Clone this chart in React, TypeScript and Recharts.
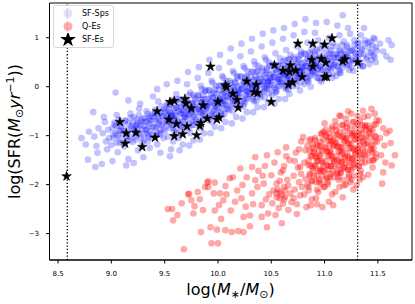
import React from "react";
import { ScatterChart, Scatter, XAxis, YAxis, ReferenceLine, ReferenceArea, Legend, Symbols } from "recharts";

const xTicks = [8.5, 9.0, 9.5, 10.0, 10.5, 11.0, 11.5];
const yTicks = [-3, -2, -1, 0, 1];
const massLimits = [8.587, 11.31];
const legendOrder = ["SF-Sps", "Q-Es", "SF-Es"];

// [log M*, log SFR] — star-forming spirals, outer part of the cloud
const sfSpsHalo: [number, number][] = [
  [8.72,-1.05],[8.76,-1.18],[8.78,-1.49],[8.79,-0.92],
  [8.83,-0.52],[8.84,-1.02],[8.86,-1.21],[8.85,-1.64],[8.88,-0.85],[8.87,-1.35],
  [8.91,-1.58],[8.92,-0.95],[8.94,-0.72],[8.95,-1.12],[8.96,-1.28],[8.97,-0.88],[8.98,-1.05],[8.93,-0.62],
  [9.01,-1.52],[9.02,-0.98],[9.03,-0.78],[9.04,-0.12],[9.05,-1.15],[9.06,-1.34],[9.07,-0.9],[9.08,-1.05],[9.05,-0.58],[9.09,-0.82],
  [9.11,-0.95],[9.12,-1.22],[9.13,-0.7],[9.14,-1.61],[9.15,-0.88],[9.16,-0.28],[9.16,-1.48],[9.17,-1.02],[9.18,-0.55],[9.19,-0.8],[9.14,-1.1],
  [9.21,-1.56],[9.21,-0.62],[9.22,-0.92],[9.23,-1.08],[9.24,-0.78],[9.25,-1.3],[9.26,-0.45],[9.27,-0.98],[9.28,-0.7],[9.29,-1.15],[9.24,-0.85],[9.27,-0.35],
  [9.30,-1.44],[9.31,-0.72],[9.32,-0.95],[9.33,-0.5],[9.34,-1.12],[9.35,-0.82],[9.36,-1.25],[9.37,-0.6],[9.38,-0.98],[9.39,-0.2],[9.33,-0.88],[9.36,-0.68],[9.38,-1.05],
  [9.41,-0.55],[9.42,-0.82],[9.43,-1.18],[9.44,-0.65],[9.45,-0.95],[9.46,-1.35],[9.47,-0.4],[9.48,-0.75],[9.49,-1.05],[9.43,-0.05],[9.46,-0.88],[9.44,-0.3],[9.48,-0.6],[9.42,-1.0],
  [9.51,-0.48],[9.52,-0.72],[9.53,-1.02],[9.54,-0.58],[9.55,-0.85],[9.56,-1.28],[9.57,-0.3],[9.58,-0.65],[9.59,-0.92],[9.52,0.05],[9.55,-1.42],[9.57,-0.78],[9.53,-0.38],[9.58,-1.12],[9.56,-0.55],
  [9.61,-0.42],[9.62,-0.7],[9.63,-0.95],[9.64,-0.25],[9.65,-0.55],[9.66,-0.82],[9.67,-1.18],[9.68,-0.38],[9.69,-0.62],[9.62,0.12],[9.64,-1.3],[9.66,-0.48],[9.68,-0.88],[9.61,-0.15],[9.67,-0.72],[9.63,-1.05],
  [9.71,-0.3],[9.72,-0.58],[9.73,-0.85],[9.74,-0.12],[9.75,-0.45],[9.76,-0.7],[9.77,-1.1],[9.78,-0.22],[9.79,-0.52],[9.72,0.3],[9.74,-0.95],[9.76,-0.35],[9.78,-0.78],[9.71,0.05],[9.77,-0.62],[9.73,-1.2],
  [9.81,-0.18],[9.82,-0.45],[9.83,-0.72],[9.84,0.02],[9.85,-0.32],[9.86,-0.58],[9.87,-0.95],[9.88,-0.1],[9.89,-0.4],[9.82,0.4],[9.84,-0.85],[9.86,-0.25],[9.88,-0.65],[9.81,0.18],[9.87,-0.5],[9.83,-1.08],[9.85,-0.05],
  [9.91,-0.08],[9.92,-0.35],[9.93,-0.6],[9.94,0.12],[9.95,-0.22],[9.96,-0.48],[9.97,-0.82],[9.98,0.02],[9.99,-0.3],[9.92,0.55],[9.94,-0.72],[9.96,-0.12],[9.98,-0.55],[9.91,0.28],[9.97,-0.4],[9.93,-0.95],[9.95,0.08],
  [10.01,0.02],[10.02,-0.25],[10.03,-0.5],[10.04,0.22],[10.05,-0.1],[10.06,-0.38],[10.07,-0.72],[10.08,0.12],[10.09,-0.2],[10.02,0.65],[10.04,-0.6],[10.06,0.0],[10.08,-0.45],[10.01,0.38],[10.07,-0.3],[10.03,-0.85],[10.05,0.18],
  [10.11,0.12],[10.12,-0.15],[10.13,-0.4],[10.14,0.32],[10.15,0.0],[10.16,-0.28],[10.17,-0.62],[10.18,0.22],[10.19,-0.1],[10.12,0.78],[10.14,-0.5],[10.16,0.1],[10.18,-0.35],[10.11,0.5],[10.17,-0.2],[10.13,-0.75],[10.15,0.28],
  [10.21,0.22],[10.22,-0.05],[10.23,-0.3],[10.24,0.42],[10.25,0.1],[10.26,-0.18],[10.27,-0.52],[10.28,0.32],[10.29,0.0],[10.22,0.88],[10.24,-0.4],[10.26,0.2],[10.28,-0.25],[10.21,0.62],[10.27,-0.1],[10.23,-0.65],[10.25,0.38],
  [10.31,0.3],[10.32,0.05],[10.33,-0.2],[10.34,0.52],[10.35,0.2],[10.36,-0.08],[10.37,-0.42],[10.38,0.42],[10.39,0.1],[10.32,0.98],[10.34,-0.3],[10.36,0.3],[10.38,-0.15],[10.31,0.72],[10.37,0.0],[10.33,-0.52],[10.35,0.45],
  [10.41,0.38],[10.42,0.12],[10.43,-0.1],[10.44,0.6],[10.45,0.28],[10.46,0.02],[10.47,-0.32],[10.48,0.5],[10.49,0.18],[10.42,1.08],[10.44,-0.22],[10.46,0.38],[10.48,-0.05],[10.41,0.82],[10.47,0.08],[10.43,-0.42],[10.45,0.55],
  [10.51,0.45],[10.52,0.2],[10.53,-0.02],[10.54,0.68],[10.55,0.35],[10.56,0.1],[10.57,-0.25],[10.58,0.58],[10.59,0.25],[10.52,1.15],[10.54,-0.12],[10.56,0.45],[10.58,0.02],[10.51,0.9],[10.57,0.15],[10.53,-0.35],
  [10.61,0.52],[10.62,0.28],[10.63,0.05],[10.64,0.75],[10.65,0.42],[10.66,0.18],[10.67,-0.15],[10.68,0.65],[10.69,0.32],[10.62,1.2],[10.64,-0.05],[10.66,0.55],[10.68,0.1],[10.61,0.98],[10.67,0.22],[10.63,-0.25],
  [10.71,0.6],[10.72,0.35],[10.73,0.12],[10.74,0.82],[10.75,0.5],[10.76,0.25],[10.77,-0.08],[10.78,0.72],[10.79,0.4],[10.72,1.28],[10.74,0.02],[10.76,0.62],[10.78,0.18],[10.71,1.05],[10.77,0.3],
  [10.81,0.68],[10.82,0.42],[10.83,0.2],[10.84,0.9],[10.85,0.58],[10.86,0.32],[10.87,0.0],[10.88,0.78],[10.89,0.48],[10.82,1.38],[10.84,0.1],[10.86,0.7],[10.88,0.25],[10.81,1.12],[10.87,0.38],
  [10.91,0.72],[10.92,0.5],[10.93,0.28],[10.94,0.95],[10.95,0.62],[10.96,0.4],[10.97,0.1],[10.98,0.85],[10.99,0.55],[10.92,1.3],[10.94,0.18],[10.96,0.78],[10.98,0.35],[10.91,1.1],
  [11.01,0.78],[11.02,0.55],[11.03,0.35],[11.04,1.0],[11.05,0.68],[11.06,0.45],[11.07,0.18],[11.08,0.9],[11.09,0.6],[11.02,1.32],[11.04,0.25],[11.06,0.82],[11.08,0.4],
  [11.11,0.82],[11.12,0.6],[11.13,0.4],[11.14,1.05],[11.15,0.72],[11.16,0.5],[11.17,1.46],[11.18,0.92],[11.19,0.62],[11.12,1.25],[11.14,0.28],[11.16,0.85],
  [11.21,0.85],[11.22,0.62],[11.23,0.45],[11.24,1.08],[11.25,0.75],[11.26,0.55],[11.27,0.32],[11.28,0.95],[11.29,0.68],[11.22,1.2],
  [11.31,0.88],[11.32,0.65],[11.33,0.5],[11.34,1.05],[11.35,0.78],[11.36,0.42],[11.38,0.95],[11.37,1.2],
  [11.41,0.9],[11.43,0.7],[11.44,0.55],[11.46,1.0],[11.48,0.8],[11.47,0.6],
  [11.52,0.88],[11.55,0.72],[11.58,0.62],[11.6,0.95],
  [11.63,0.85],[11.62,0.55],
];

// dense ridge of the spiral cloud
const sfSpsCore: [number, number][] = [
  [9.00,-1.19],[9.02,-1.05],[9.04,-0.95],[9.01,-0.85],[9.03,-0.73],
  [9.08,-1.14],[9.06,-1.00],[9.09,-0.90],[9.05,-0.80],[9.07,-0.67],
  [9.11,-1.15],[9.14,-1.01],[9.12,-0.91],[9.10,-0.81],[9.13,-0.69],
  [9.17,-1.10],[9.15,-0.96],[9.19,-0.86],[9.16,-0.76],[9.18,-0.64],
  [9.20,-1.13],[9.22,-1.02],[9.24,-0.94],[9.21,-0.87],[9.23,-0.81],[9.20,-0.74],[9.24,-0.67],
  [9.28,-1.05],[9.26,-0.94],[9.29,-0.87],[9.27,-0.79],[9.25,-0.73],[9.29,-0.66],[9.26,-0.58],
  [9.31,-1.08],[9.34,-0.97],[9.32,-0.88],[9.30,-0.80],[9.33,-0.71],[9.31,-0.64],[9.34,-0.56],
  [9.35,-1.02],[9.37,-0.91],[9.39,-0.83],[9.36,-0.76],[9.38,-0.70],[9.35,-0.63],[9.39,-0.56],
  [9.43,-0.94],[9.41,-0.83],[9.44,-0.76],[9.42,-0.68],[9.40,-0.62],[9.44,-0.55],[9.41,-0.47],
  [9.46,-0.98],[9.49,-0.87],[9.47,-0.78],[9.45,-0.70],[9.48,-0.61],[9.46,-0.54],[9.49,-0.46],
  [9.50,-0.91],[9.52,-0.80],[9.54,-0.72],[9.51,-0.65],[9.53,-0.59],[9.50,-0.52],[9.54,-0.45],[9.52,-0.36],[9.53,-0.68],
  [9.58,-0.84],[9.56,-0.73],[9.59,-0.66],[9.57,-0.58],[9.55,-0.52],[9.59,-0.45],[9.56,-0.37],[9.58,-0.27],[9.57,-0.60],
  [9.61,-0.87],[9.64,-0.76],[9.62,-0.67],[9.60,-0.59],[9.63,-0.50],[9.61,-0.43],[9.64,-0.35],[9.62,-0.26],[9.60,-0.54],
  [9.65,-0.81],[9.67,-0.70],[9.69,-0.62],[9.66,-0.55],[9.68,-0.49],[9.65,-0.42],[9.69,-0.35],[9.67,-0.26],[9.68,-0.58],
  [9.73,-0.74],[9.71,-0.63],[9.74,-0.56],[9.72,-0.48],[9.70,-0.42],[9.74,-0.35],[9.71,-0.27],[9.73,-0.17],[9.72,-0.50],
  [9.76,-0.78],[9.79,-0.67],[9.77,-0.58],[9.75,-0.50],[9.78,-0.41],[9.76,-0.34],[9.79,-0.26],[9.77,-0.17],[9.75,-0.45],
  [9.80,-0.72],[9.82,-0.61],[9.84,-0.53],[9.81,-0.46],[9.83,-0.40],[9.80,-0.33],[9.84,-0.26],[9.82,-0.17],[9.83,-0.49],
  [9.88,-0.64],[9.86,-0.53],[9.89,-0.46],[9.87,-0.38],[9.85,-0.32],[9.89,-0.25],[9.86,-0.17],[9.88,-0.07],[9.87,-0.40],
  [9.91,-0.68],[9.94,-0.57],[9.92,-0.48],[9.90,-0.40],[9.93,-0.31],[9.91,-0.24],[9.94,-0.16],[9.92,-0.07],[9.90,-0.35],
  [9.95,-0.61],[9.97,-0.50],[9.99,-0.42],[9.96,-0.35],[9.98,-0.29],[9.95,-0.22],[9.99,-0.15],[9.97,-0.06],[9.98,-0.38],
  [10.03,-0.54],[10.01,-0.43],[10.04,-0.36],[10.02,-0.28],[10.00,-0.22],[10.04,-0.15],[10.01,-0.07],[10.03,0.03],[10.02,-0.30],
  [10.06,-0.56],[10.09,-0.45],[10.07,-0.36],[10.05,-0.28],[10.08,-0.19],[10.06,-0.12],[10.09,-0.04],[10.07,0.05],[10.05,-0.23],
  [10.10,-0.48],[10.12,-0.37],[10.14,-0.29],[10.11,-0.22],[10.13,-0.16],[10.10,-0.09],[10.14,-0.02],[10.12,0.07],[10.13,-0.25],
  [10.18,-0.39],[10.16,-0.28],[10.19,-0.21],[10.17,-0.13],[10.15,-0.07],[10.19,0.00],[10.16,0.08],[10.18,0.18],[10.17,-0.15],
  [10.21,-0.41],[10.24,-0.30],[10.22,-0.21],[10.20,-0.13],[10.23,-0.04],[10.21,0.03],[10.24,0.11],[10.22,0.20],[10.20,-0.08],
  [10.25,-0.34],[10.27,-0.23],[10.29,-0.15],[10.26,-0.08],[10.28,-0.02],[10.25,0.05],[10.29,0.12],[10.27,0.21],[10.28,-0.11],
  [10.33,-0.26],[10.31,-0.15],[10.34,-0.08],[10.32,0.00],[10.30,0.06],[10.34,0.13],[10.31,0.21],[10.33,0.31],[10.32,-0.02],
  [10.36,-0.29],[10.39,-0.18],[10.37,-0.09],[10.35,-0.01],[10.38,0.08],[10.36,0.15],[10.39,0.23],[10.37,0.32],[10.35,0.04],
  [10.40,-0.22],[10.42,-0.11],[10.44,-0.03],[10.41,0.04],[10.43,0.10],[10.40,0.17],[10.44,0.24],[10.42,0.33],[10.43,0.01],
  [10.48,-0.14],[10.46,-0.03],[10.49,0.04],[10.47,0.12],[10.45,0.18],[10.49,0.25],[10.46,0.33],[10.48,0.43],[10.47,0.10],
  [10.51,-0.17],[10.54,-0.06],[10.52,0.03],[10.50,0.11],[10.53,0.20],[10.51,0.27],[10.54,0.35],[10.52,0.44],[10.50,0.16],
  [10.55,-0.10],[10.57,0.01],[10.59,0.09],[10.56,0.16],[10.58,0.22],[10.55,0.29],[10.59,0.36],[10.57,0.45],[10.58,0.13],
  [10.63,-0.02],[10.61,0.09],[10.64,0.16],[10.62,0.24],[10.60,0.30],[10.64,0.37],[10.61,0.45],[10.63,0.55],[10.62,0.22],
  [10.66,-0.05],[10.69,0.06],[10.67,0.15],[10.65,0.23],[10.68,0.32],[10.66,0.39],[10.69,0.47],[10.67,0.56],[10.65,0.28],
  [10.70,0.01],[10.72,0.12],[10.74,0.20],[10.71,0.27],[10.73,0.33],[10.70,0.40],[10.74,0.47],[10.72,0.56],[10.73,0.24],
  [10.78,0.09],[10.76,0.20],[10.79,0.27],[10.77,0.35],[10.75,0.41],[10.79,0.48],[10.76,0.56],[10.78,0.66],[10.77,0.33],
  [10.81,0.05],[10.84,0.16],[10.82,0.25],[10.80,0.33],[10.83,0.42],[10.81,0.49],[10.84,0.57],[10.82,0.66],[10.80,0.38],
  [10.85,0.11],[10.87,0.22],[10.89,0.30],[10.86,0.37],[10.88,0.43],[10.85,0.50],[10.89,0.57],[10.87,0.66],[10.88,0.34],
  [10.93,0.18],[10.91,0.29],[10.94,0.36],[10.92,0.44],[10.90,0.50],[10.94,0.57],[10.91,0.65],[10.93,0.75],[10.92,0.42],
  [10.96,0.14],[10.99,0.25],[10.97,0.34],[10.95,0.42],[10.98,0.51],[10.96,0.58],[10.99,0.66],
  [11.00,0.20],[11.02,0.31],[11.04,0.39],[11.01,0.46],[11.03,0.52],[11.00,0.59],[11.04,0.66],
  [11.08,0.27],[11.06,0.38],[11.09,0.45],[11.07,0.53],[11.05,0.59],[11.09,0.66],[11.06,0.74],
  [11.11,0.22],[11.14,0.33],[11.12,0.42],[11.10,0.50],[11.13,0.59],[11.11,0.66],[11.14,0.74],
  [11.15,0.28],[11.17,0.39],[11.19,0.47],[11.16,0.54],[11.18,0.60],[11.15,0.67],[11.19,0.74],
  [11.23,0.34],[11.21,0.45],[11.24,0.52],[11.22,0.60],[11.20,0.66],[11.24,0.73],[11.21,0.81],
  [11.25,0.39],[11.27,0.53],[11.29,0.63],[11.26,0.73],[11.28,0.85],
  [11.33,0.43],[11.31,0.57],[11.34,0.67],[11.30,0.77],[11.32,0.90],
  [11.36,0.42],[11.39,0.56],[11.37,0.66],[11.35,0.76],[11.38,0.88],
  [11.42,0.46],[11.40,0.60],[11.44,0.70],[11.41,0.80],[11.43,0.92],
  [11.48,0.50],[11.46,0.64],[11.49,0.74],[11.45,0.84],[11.47,0.97],
];

// quiescent ellipticals, tail and spread
const qEsHalo: [number, number][] = [
  [9.53,-2.5],[9.57,-2.5],[9.58,-2.73],
  [9.66,-2.38],[9.68,-3.32],[9.62,-2.62],
  [9.72,-2.2],[9.73,-2.19],[9.78,-2.44],[9.77,-2.59],[9.75,-2.32],
  [9.83,-2.3],[9.84,-2.97],[9.81,-2.15],[9.86,-2.52],[9.88,-2.05],
  [9.91,-2.05],[9.91,-1.93],[9.93,-2.87],[9.9,-1.96],[9.94,-3.2],[9.96,-2.18],[9.97,-2.53],
  [9.97,-1.96],[10.02,-2.18],[9.99,-2.92],[10.0,-3.2],[10.05,-2.32],[10.03,-2.7],[10.07,-2.03],[10.01,-2.42],
  [10.08,-2.2],[10.07,-2.93],[10.12,-2.53],[10.13,-2.97],[10.11,-1.87],[10.14,-1.85],[10.16,-2.35],[10.18,-2.12],
  [10.19,-2.95],[10.24,-2.97],[10.21,-1.67],[10.23,-2.01],[10.24,-2.66],[10.27,-1.85],[10.22,-2.28],[10.26,-2.45],
  [10.3,-2.85],[10.3,-2.63],[10.32,-1.64],[10.32,-2.18],[10.35,-1.44],[10.35,-1.91],[10.33,-2.4],[10.37,-2.05],[10.38,-1.72],
  [10.41,-2.66],[10.41,-2.42],[10.43,-1.98],[10.46,-1.4],[10.46,-2.87],[10.47,-2.59],[10.44,-1.62],[10.48,-2.2],[10.42,-1.82],[10.45,-2.3],
  [10.5,-1.81],[10.52,-2.12],[10.55,-2.26],[10.55,-1.98],[10.56,-1.34],[10.58,-2.15],[10.53,-1.55],[10.57,-2.48],[10.51,-2.38],[10.59,-1.75],[10.54,-2.62],[10.58,-1.92],
  [10.56,-2.1],[10.6,-2.2],[10.63,-2.12],[10.58,-2.28],[10.62,-2.3],[10.55,-2.18],
  [10.6,-2.79],[10.61,-2.39],[10.61,-1.71],[10.63,-2.25],[10.62,-2.05],[10.64,-1.24],[10.65,-1.9],[10.66,-2.52],[10.67,-1.5],[10.68,-2.18],[10.62,-1.62],[10.69,-2.36],[10.66,-2.02],[10.64,-1.42],
  [10.71,-1.82],[10.72,-2.1],[10.73,-1.35],[10.74,-2.4],[10.75,-1.65],[10.76,-1.95],[10.77,-1.64],[10.77,-2.22],[10.78,-1.12],[10.79,-2.05],[10.72,-1.52],[10.74,-2.6],[10.76,-1.28],[10.78,-1.78],[10.71,-2.28],
  [10.81,-1.55],[10.82,-1.88],[10.83,-2.46],[10.8,-1.03],[10.84,-1.2],[10.85,-2.12],[10.86,-1.78],[10.87,-1.42],[10.88,-2.3],[10.89,-1.65],[10.82,-1.3],[10.84,-2.0],[10.86,-1.1],[10.88,-1.92],[10.81,-2.2],[10.85,-1.6],[10.87,-2.42],[10.89,-1.25],
  [10.91,-1.05],[10.92,-1.45],[10.93,-1.82],[10.94,-2.15],[10.95,-1.3],[10.96,-1.68],[10.97,-1.98],[10.98,-2.46],[10.99,-0.92],[10.91,-1.6],[10.92,-2.28],[10.93,-1.18],[10.94,-1.52],[10.95,-1.9],[10.96,-1.4],[10.97,-0.95],[10.98,-1.72],[10.99,-2.05],[10.9,-1.35],[10.93,-2.4],[10.96,-1.12],[10.98,-1.55],
  [11.0,-0.75],[11.01,-1.25],[11.02,-1.6],[11.03,-1.95],[11.04,-0.95],[11.05,-1.4],[11.06,-1.78],[11.07,-2.2],[11.08,-1.1],[11.09,-1.52],[11.01,-0.88],[11.02,-1.88],[11.03,-1.32],[11.04,-2.35],[11.05,-1.05],[11.06,-1.62],[11.07,-0.82],[11.08,-1.85],[11.09,-1.2],[11.0,-2.05],[11.03,-1.7],[11.05,-1.18],[11.07,-1.48],[11.08,-2.42],[11.02,-1.02],[11.06,-1.35],
  [11.1,-0.7],[11.11,-1.15],[11.12,-1.5],[11.13,-1.85],[11.14,-0.92],[11.15,-1.32],[11.16,-1.68],[11.17,-2.26],[11.18,-1.02],[11.19,-1.45],[11.11,-0.8],[11.12,-1.78],[11.13,-1.22],[11.14,-2.05],[11.15,-0.6],[11.16,-1.55],[11.17,-0.78],[11.18,-1.9],[11.19,-1.1],[11.1,-2.15],[11.13,-1.62],[11.14,-0.59],[11.16,-1.38],[11.18,-2.02],[11.12,-0.98],[11.15,-1.75],[11.17,-1.25],[11.19,-1.65],
  [11.2,-0.65],[11.21,-1.05],[11.22,-1.42],[11.23,-1.8],[11.24,-0.85],[11.25,-1.25],[11.26,-1.6],[11.27,-2.1],[11.28,-0.95],[11.29,-1.38],[11.21,-0.75],[11.22,-1.7],[11.23,-1.15],[11.24,-1.95],[11.25,-0.55],[11.26,-1.48],[11.27,-0.72],[11.28,-1.82],[11.29,-1.08],[11.2,-2.0],[11.23,-1.55],[11.25,-1.9],[11.26,-1.0],[11.28,-1.3],[11.22,-0.5],[11.27,-1.65],
  [11.3,-2.01],[11.31,-0.6],[11.32,-0.98],[11.33,-1.35],[11.34,-1.72],[11.35,-0.78],[11.36,-0.49],[11.37,-1.18],[11.38,-1.55],[11.39,-0.88],[11.31,-1.25],[11.32,-1.62],[11.33,-0.7],[11.34,-1.05],[11.35,-1.45],[11.36,-1.85],[11.37,-0.62],[11.38,-1.32],[11.39,-1.02],[11.33,-1.9],[11.36,-1.12],[11.38,-0.8],
  [11.41,-0.6],[11.42,-0.95],[11.43,-1.3],[11.44,-0.45],[11.45,-1.65],[11.46,-0.78],[11.47,-1.12],[11.48,-1.45],[11.49,-0.68],[11.41,-1.8],[11.43,-0.85],[11.44,-1.2],[11.46,-1.5],[11.47,-0.55],[11.48,-1.02],[11.45,-1.35],
  [11.51,-0.7],[11.52,-1.05],[11.53,-1.4],[11.54,-1.98],[11.55,-0.85],[11.56,-1.2],[11.57,-1.55],[11.58,-0.95],[11.55,-1.75],
  [11.61,-0.9],[11.62,-1.15],[11.63,-1.61],[11.66,-1.4],
];

// dense clump of the quiescent cloud
const qEsCore: [number, number][] = [
  [10.85,-2.05],[10.88,-1.93],[10.86,-1.82],[10.89,-1.72],[10.87,-1.62],[10.85,-1.52],[10.88,-1.42],[10.86,-1.31],[10.89,-1.19],[10.87,-1.07],
  [10.92,-1.95],[10.90,-1.83],[10.94,-1.72],[10.91,-1.62],[10.93,-1.52],[10.92,-1.42],[10.90,-1.32],[10.94,-1.21],[10.91,-1.09],[10.93,-2.10],
  [10.95,-1.95],[10.98,-1.83],[10.96,-1.72],[10.99,-1.62],[10.97,-1.52],[10.95,-1.42],[10.98,-1.32],[10.96,-1.21],[10.99,-1.09],[10.97,-0.97],
  [11.02,-1.85],[11.00,-1.73],[11.04,-1.62],[11.01,-1.52],[11.03,-1.42],[11.02,-1.32],[11.00,-1.22],[11.04,-1.11],[11.01,-0.99],[11.03,-2.00],
  [11.05,-1.85],[11.08,-1.73],[11.06,-1.62],[11.09,-1.52],[11.07,-1.42],[11.05,-1.32],[11.08,-1.22],[11.06,-1.11],[11.09,-0.99],[11.07,-0.87],
  [11.12,-1.75],[11.10,-1.63],[11.14,-1.52],[11.11,-1.42],[11.13,-1.32],[11.12,-1.22],[11.10,-1.12],[11.14,-1.01],[11.11,-0.89],[11.13,-1.90],
  [11.15,-1.77],[11.18,-1.65],[11.16,-1.54],[11.19,-1.44],[11.17,-1.34],[11.15,-1.24],[11.18,-1.14],[11.16,-1.03],[11.19,-0.91],[11.17,-0.79],
  [11.22,-1.69],[11.20,-1.57],[11.24,-1.46],[11.21,-1.36],[11.23,-1.26],[11.22,-1.16],[11.20,-1.06],[11.24,-0.95],[11.21,-0.83],[11.23,-1.84],
  [11.25,-1.70],[11.28,-1.58],[11.26,-1.47],[11.29,-1.37],[11.27,-1.27],[11.25,-1.17],[11.28,-1.07],[11.26,-0.96],[11.29,-0.84],[11.27,-0.72],
  [11.32,-1.63],[11.30,-1.51],[11.34,-1.40],[11.31,-1.30],[11.33,-1.20],[11.32,-1.10],[11.30,-1.00],[11.34,-0.89],[11.31,-0.77],[11.33,-1.78],
  [11.35,-1.55],[11.38,-1.42],[11.36,-1.30],[11.39,-1.18],[11.37,-1.06],[11.35,-0.94],[11.38,-0.82],
  [11.42,-1.52],[11.40,-1.39],[11.44,-1.27],[11.41,-1.15],[11.43,-1.03],[11.42,-0.91],[11.40,-0.79],
  [11.45,-1.50],[11.48,-1.37],[11.46,-1.25],[11.49,-1.13],[11.47,-1.01],[11.45,-0.89],[11.48,-0.77],
];

// star-forming ellipticals
const sfEs: [number, number][] = [
  [8.58,-1.83],[9.08,-0.72],[9.14,-0.95],[9.23,-0.94],[9.13,-1.16],[9.29,-1.23],[9.41,-1.04],[9.43,-0.5],
  [9.55,-0.31],[9.59,-0.29],[9.69,-0.25],[9.70,-0.34],[9.75,-0.44],[9.54,-0.67],[9.61,-0.76],[9.71,-0.81],
  [9.59,-1.01],[9.67,-0.97],[9.80,-0.99],[9.83,-0.8],[9.84,-0.74],[9.86,-0.38],[9.9,-0.65],[9.93,0.41],
  [10.0,-0.31],[10.01,-0.63],[9.99,-0.67],[10.07,0.03],[10.08,-0.01],[10.14,-0.14],[10.18,-0.27],[10.19,-0.43],
  [10.27,0.11],[10.36,0.04],[10.34,-0.11],[10.37,-0.13],[10.5,-0.31],[10.53,0.44],[10.61,0.33],[10.68,0.44],
  [10.67,0.3],[10.73,0.33],[10.66,0.04],[10.7,0.09],[10.79,0.2],[10.75,0.88],[10.89,0.88],[11.0,0.86],
  [11.07,0.99],[10.88,0.55],[10.89,0.41],[10.97,0.57],[11.01,0.49],[11.0,0.2],[11.02,0.2],[11.17,0.52],
  [11.19,0.56],[11.31,0.5],
];

const toPoints = (rows: [number, number][]) => rows.map(([mass, sfr]) => ({ mass, sfr }));

const FONT = "DejaVu Sans, sans-serif";

const blueDot = (p: any) => <circle cx={p.cx} cy={p.cy} r={3.3} fill="#0000ff" fillOpacity={0.24} />;
const redDot = (p: any) => <circle cx={p.cx} cy={p.cy} r={3.3} fill="#ff0000" fillOpacity={0.34} />;
const starDot = (p: any) => (
  <Symbols cx={p.cx} cy={p.cy} type="star" size={28} fill="#000" stroke="#000" strokeWidth={0.6} />
);

const legendIcons: Record<string, React.ReactNode> = {
  "SF-Sps": <circle cx={13} cy={6.5} r={4.5} fill="#0000ff" fillOpacity={0.12} />,
  "Q-Es": <circle cx={13} cy={6.5} r={4.5} fill="#ff0000" fillOpacity={0.33} />,
  "SF-Es": <Symbols cx={13} cy={6.5} type="star" size={80} fill="#000" />,
};

const LegendBox = (props: any) => {
  const items = [...(props.payload ?? [])].sort(
    (a: any, b: any) => legendOrder.indexOf(a.value) - legendOrder.indexOf(b.value)
  );
  return (
    <div
      style={{
        border: "1px solid #d6d6d6",
        borderRadius: 3,
        background: "rgba(255,255,255,0.8)",
        padding: "1px 4px 1px 1px",
        fontFamily: FONT,
        fontSize: 8,
      }}
    >
      {items.map((entry: any) => (
        <div key={entry.value} style={{ display: "flex", alignItems: "center", height: 13 }}>
          <svg width={27} height={13}>{legendIcons[entry.value]}</svg>
          <span>{entry.value}</span>
        </div>
      ))}
    </div>
  );
};

const XLabel = () => (
  <text x={230.5} y={295} textAnchor="middle" fontFamily={FONT} fontSize={16} fill="#000">
    log(<tspan fontStyle="italic">M</tspan>
    <tspan fontSize={11} dy={3}>∗</tspan>
    <tspan dy={-3}>/</tspan>
    <tspan fontStyle="italic">M</tspan>
    <tspan fontSize={11} dy={3}>⊙</tspan>
    <tspan dy={-3}>)</tspan>
  </text>
);

const YLabel = () => (
  <text
    x={20}
    y={131.5}
    transform="rotate(-90 20 131.5)"
    textAnchor="middle"
    fontFamily={FONT}
    fontSize={16}
    fill="#000"
  >
    log(SFR(<tspan fontStyle="italic">M</tspan>
    <tspan fontSize={11} dy={3}>⊙</tspan>
    <tspan dy={-3} fontStyle="italic">yr</tspan>
    <tspan fontSize={11} dy={-6}>−1</tspan>
    <tspan dy={6}>))</tspan>
  </text>
);

const fmtY = (v: number) => (v < 0 ? `\u2212${Math.abs(v)}` : String(v));

export default function App() {
  const tickStyle = { fontSize: 7, fill: "#000", fontFamily: FONT };
  return (
    <div style={{ position: "absolute", left: 0, top: 0, background: "#fff" }}>
      <ScatterChart width={415} height={304} margin={{ top: 3, right: 3, bottom: 0, left: 0 }}>
        <XAxis
          type="number"
          dataKey="mass"
          domain={[8.42, 11.82]}
          allowDataOverflow
          ticks={xTicks}
          interval={0}
          tickFormatter={(v: number) => v.toFixed(1)}
          tick={tickStyle}
          tickSize={3.5}
          tickMargin={7.5}
          stroke="#000"
          height={44}
          label={<XLabel />}
        />
        <YAxis
          type="number"
          dataKey="sfr"
          domain={[-3.54, 1.71]}
          allowDataOverflow
          ticks={yTicks}
          interval={0}
          tickFormatter={fmtY}
          tick={tickStyle}
          tickSize={3.5}
          tickMargin={7}
          stroke="#000"
          width={49.5}
          label={<YLabel />}
        />
        <ReferenceArea x1={8.42} x2={11.82} y1={-3.54} y2={1.71} fill="none" stroke="#000" strokeWidth={1} />
        <Scatter name="SF-Sps" data={toPoints([...sfSpsHalo, ...sfSpsCore])} shape={blueDot} isAnimationActive={false} />
        <Scatter name="Q-Es" data={toPoints([...qEsHalo, ...qEsCore])} shape={redDot} isAnimationActive={false} />
        {massLimits.map((m) => (
          <ReferenceLine key={m} x={m} stroke="#000" strokeWidth={1.3} strokeDasharray="1.3 2" />
        ))}
        <Scatter name="SF-Es" data={toPoints(sfEs)} shape={starDot} isAnimationActive={false} />
        <Legend
          layout="vertical"
          align="center"
          verticalAlign="middle"
          wrapperStyle={{ left: 53, top: 5, width: "auto", height: "auto" }}
          content={<LegendBox />}
        />
      </ScatterChart>
    </div>
  );
}
